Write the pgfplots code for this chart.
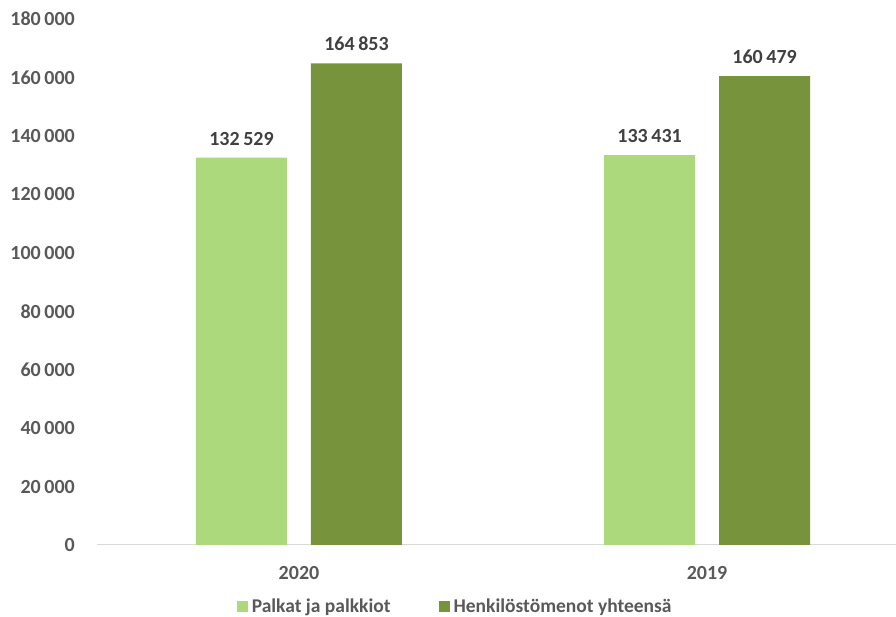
\documentclass[border=0pt]{standalone}
\usepackage{pgfplots}
\pgfplotsset{compat=1.18}
\usepackage{fontspec}
\setmainfont{Carlito}

\definecolor{lightgreen}{HTML}{ABD97C}
\definecolor{darkgreen}{HTML}{77933C}
\definecolor{ticktext}{HTML}{595959}
\definecolor{labeltext}{HTML}{404040}
\definecolor{axisline}{HTML}{D9D9D9}

\begin{document}
\begin{tikzpicture}
\useasboundingbox (0pt,0pt) rectangle (896pt,617pt);
\begin{axis}[
    at={(97pt,72pt)}, anchor=south west,
    scale only axis,
    width=799pt, height=526pt,
    ybar=24pt, bar width=91pt,
    xmin=-0.495, xmax=1.463,
    ymin=0, ymax=180000,
    xtick={0,1}, xticklabels={2020,2019},
    ytick={0,20000,...,180000},
    scaled y ticks=false,
    axis lines*=left,
    x axis line style={draw=axisline, line width=1pt},
    y axis line style={draw=none},
    major tick length=0pt,
    tick style={draw=none},
    font=\fontsize{20}{24}\selectfont\bfseries,
    /pgf/number format/assume math mode=true,
    /pgf/number format/fixed,
    /pgf/number format/precision=0,
    /pgf/number format/1000 sep={\hspace{0.18em}},
    yticklabel style={anchor=east, inner sep=0pt, xshift=-22pt, text=ticktext},
    xticklabel style={anchor=center, inner sep=0pt, yshift=-28pt, text=ticktext},
    nodes near coords={\pgfmathprintnumber{\pgfplotspointmeta}},
    every node near coord/.append style={anchor=south, inner sep=0pt, yshift=12pt,
        text=labeltext, font=\fontsize{20}{24}\selectfont\bfseries},
    legend columns=2,
    legend style={at={(0.447,-0.116)}, anchor=center, draw=none,
        inner sep=0pt, column sep=4pt,
        /tikz/every even column/.append style={column sep=48pt},
        font=\fontsize{19.5}{24}\selectfont\bfseries, text=ticktext,
        nodes={inner sep=0pt}},
    legend image code/.code={\fill[#1] (0pt,-5.5pt) rectangle (11pt,5.5pt);},
]
\addplot[fill=lightgreen, draw=none] coordinates {(0,132529) (1,133431)};
\addlegendentry{Palkat ja palkkiot}
\addplot[fill=darkgreen, draw=none] coordinates {(0,164853) (1,160479)};
\addlegendentry{Henkilöstömenot yhteensä}
\end{axis}
\end{tikzpicture}
\end{document}
